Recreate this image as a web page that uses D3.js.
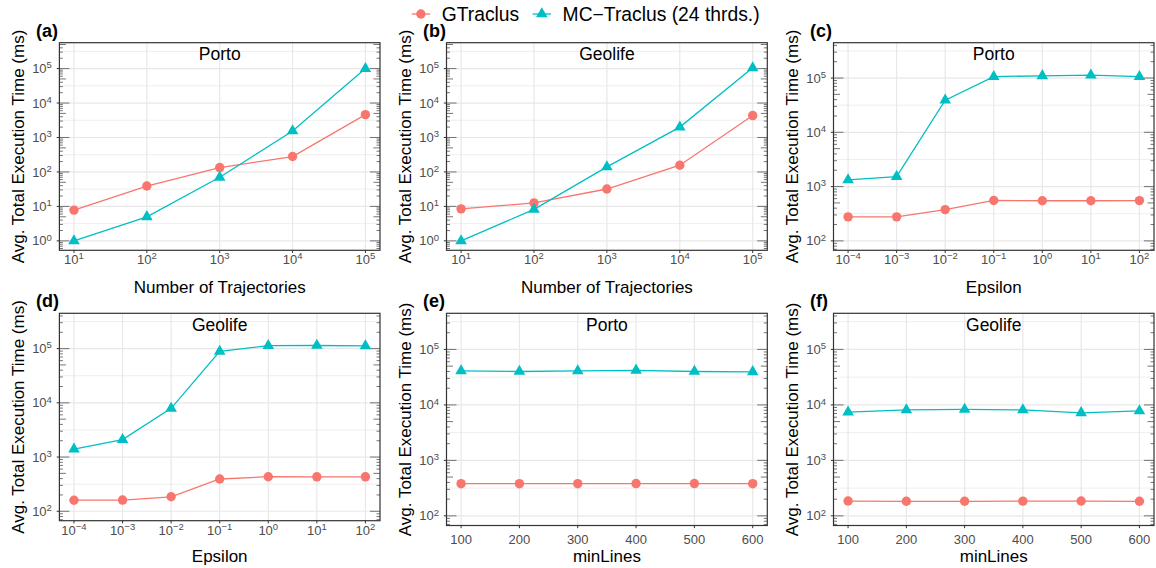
<!DOCTYPE html>
<html>
<head>
<meta charset="utf-8">
<script src="https://cdn.jsdelivr.net/npm/d3@7"></script>
<style>
  body { margin: 0; background: #fff; }
  svg { display: block; font-family: "Liberation Sans", Arial, sans-serif; }
</style>
</head>
<body>
<svg id="chart" width="1156" height="568"></svg>
<script>
// x values
const trajCounts = [10, 100, 1000, 10000, 100000];
const epsilons = [1e-4, 1e-3, 1e-2, 1e-1, 1, 10, 100];
const minLines = [100, 200, 300, 400, 500, 600];

// avg. total execution time (ms)
const gPortoTraj = [7.8, 39, 134, 280, 4600];
const mcPortoTraj = [1.0, 5.0, 70, 1550, 100000];
const gGeoTraj = [8.5, 12.6, 32, 157, 4330];
const mcGeoTraj = [1.0, 8.2, 140, 2000, 105000];
const gPortoEps = [277, 277, 377, 555, 548, 548, 552];
const mcPortoEps = [1330, 1530, 39000, 106000, 110000, 113000, 106000];
const gGeoEps = [160, 161, 185, 394, 434, 432, 432];
const mcGeoEps = [1400, 2100, 7900, 89000, 113000, 114000, 112000];
const gPortoMin = [380, 380, 380, 382, 382, 380];
const mcPortoMin = [41000, 40000, 41000, 42000, 40000, 39500];
const gGeoMin = [185, 183, 183, 184, 185, 183];
const mcGeoMin = [7400, 8100, 8300, 8100, 7200, 7800];

const seriesNames = ['GTraclus', 'MC\u2212Traclus (24 thrds.)'];
const colors = ['#F8766D', '#00BFC4'];

const panels = [
  { tag: '(a)', title: 'Porto', xs: trajCounts, g: gPortoTraj, mc: mcPortoTraj, xLog: true, xTitle: 'Number of Trajectories', yLow: 1, box: [59.4, 42.7, 380, 250.3], row: 0 },
  { tag: '(b)', title: 'Geolife', xs: trajCounts, g: gGeoTraj, mc: mcGeoTraj, xLog: true, xTitle: 'Number of Trajectories', yLow: 1, box: [446.5, 42.7, 767.3, 250.3], row: 0 },
  { tag: '(c)', title: 'Porto', xs: epsilons, g: gPortoEps, mc: mcPortoEps, xLog: true, xTitle: 'Epsilon', yLow: 100, box: [833.5, 42.7, 1154, 250.3], row: 0 },
  { tag: '(d)', title: 'Geolife', xs: epsilons, g: gGeoEps, mc: mcGeoEps, xLog: true, xTitle: 'Epsilon', yLow: 100, box: [59.4, 313.3, 380, 520.7], row: 1 },
  { tag: '(e)', title: 'Porto', xs: minLines, g: gPortoMin, mc: mcPortoMin, xLog: false, xTitle: 'minLines', yLow: 100, box: [446.5, 313.3, 767.3, 525.5], row: 1 },
  { tag: '(f)', title: 'Geolife', xs: minLines, g: gGeoMin, mc: mcGeoMin, xLog: false, xTitle: 'minLines', yLow: 100, box: [833.5, 313.3, 1154, 525.5], row: 1 }
];

const svg = d3.select('#chart');
const yHigh = 3e5;
const xTitleBase = [293, 562];

// 10^k label with a raised exponent
function powLabel(sel, k) {
  sel.text('10');
  sel.append('tspan')
    .attr('dy', '-0.5em')
    .attr('font-size', '9.5px')
    .text(k < 0 ? '\u2212' + Math.abs(k) : String(k));
}

panels.forEach(p => {
  const [x0, y0, x1, y1] = p.box;
  const gEl = svg.append('g');

  // y domain with ggplot-like 5% expansion in log space
  const lo = Math.log10(p.yLow), hi = Math.log10(yHigh);
  const pad = (hi - lo) * 0.05;
  const y = d3.scaleLog().domain([Math.pow(10, lo - pad), Math.pow(10, hi + pad)]).range([y1, y0]);

  let x;
  if (p.xLog) {
    const a = Math.log10(d3.min(p.xs)), b = Math.log10(d3.max(p.xs));
    const px = (b - a) * 0.05;
    x = d3.scaleLog().domain([Math.pow(10, a - px), Math.pow(10, b + px)]).range([x0, x1]);
  } else {
    const a = d3.min(p.xs), b = d3.max(p.xs);
    const px = (b - a) * 0.05;
    x = d3.scaleLinear().domain([a - px, b + px]).range([x0, x1]);
  }

  // background gridlines
  const kLo = Math.floor(lo - pad), kHi = Math.ceil(hi + pad);
  const inY = v => v >= y.domain()[0] && v <= y.domain()[1];
  const majors = d3.range(kLo, kHi + 1).filter(k => inY(Math.pow(10, k)));
  const minors = d3.range(kLo, kHi + 1).map(k => Math.pow(10, k + 0.5)).filter(inY);

  gEl.selectAll('.minor').data(minors).join('line')
    .attr('x1', x0).attr('x2', x1)
    .attr('y1', d => y(d)).attr('y2', d => y(d))
    .attr('stroke', '#ECECEC').attr('stroke-width', 0.9);
  gEl.selectAll('.major').data(majors).join('line')
    .attr('x1', x0).attr('x2', x1)
    .attr('y1', d => y(Math.pow(10, d))).attr('y2', d => y(Math.pow(10, d)))
    .attr('stroke', '#E8E8E8').attr('stroke-width', 1.2);
  gEl.selectAll('.vgrid').data(p.xs).join('line')
    .attr('x1', d => x(d)).attr('x2', d => x(d))
    .attr('y1', y0).attr('y2', y1)
    .attr('stroke', '#E8E8E8').attr('stroke-width', 1.2);

  // log ticks on left and right sides
  const logTicks = [];
  d3.range(kLo, kHi + 1).forEach(k => {
    for (let m = 1; m <= 9; m++) {
      const v = m * Math.pow(10, k);
      if (inY(v)) logTicks.push({ v, len: m === 1 ? 10 : (m === 5 ? 6.5 : 3.5) });
    }
  });
  [[x0, 1], [x1, -1]].forEach(([xe, dir]) => {
    gEl.append('g').selectAll('line').data(logTicks).join('line')
      .attr('x1', xe).attr('x2', d => xe + dir * d.len)
      .attr('y1', d => y(d.v)).attr('y2', d => y(d.v))
      .attr('stroke', '#666').attr('stroke-width', 0.9);
  });

  // series
  const series = [p.g, p.mc];
  series.forEach((vals, i) => {
    const pts = p.xs.map((xv, j) => [x(xv), y(vals[j])]);
    gEl.append('path')
      .attr('d', d3.line()(pts))
      .attr('fill', 'none')
      .attr('stroke', colors[i])
      .attr('stroke-width', 1.3);
    if (i === 0) {
      gEl.append('g').selectAll('circle').data(pts).join('circle')
        .attr('cx', d => d[0]).attr('cy', d => d[1]).attr('r', 4.7)
        .attr('fill', colors[i]);
    } else {
      const r = 6.7;
      gEl.append('g').selectAll('path').data(pts).join('path')
        .attr('d', d => `M${d[0]},${d[1] - r}L${d[0] + r * 0.866},${d[1] + r / 2}L${d[0] - r * 0.866},${d[1] + r / 2}Z`)
        .attr('fill', colors[i]);
    }
  });

  // panel border
  gEl.append('rect')
    .attr('x', x0).attr('y', y0)
    .attr('width', x1 - x0).attr('height', y1 - y0)
    .attr('fill', 'none').attr('stroke', '#333').attr('stroke-width', 1.2);

  // y axis ticks + labels
  majors.forEach(k => {
    const yy = y(Math.pow(10, k));
    gEl.append('line').attr('x1', x0 - 2.7).attr('x2', x0).attr('y1', yy).attr('y2', yy)
      .attr('stroke', '#333').attr('stroke-width', 1);
    gEl.append('text')
      .attr('x', x0 - 7.5).attr('y', yy + 4.6)
      .attr('text-anchor', 'end').attr('font-size', '13px').attr('fill', '#4D4D4D')
      .call(powLabel, k);
  });

  // x axis ticks + labels
  p.xs.forEach(xv => {
    const xx = x(xv);
    gEl.append('line').attr('x1', xx).attr('x2', xx).attr('y1', y1).attr('y2', y1 + 2.7)
      .attr('stroke', '#333').attr('stroke-width', 1);
    const t = gEl.append('text')
      .attr('x', xx)
      .attr('y', y1 + (p.xLog ? 13.8 : 18))
      .attr('text-anchor', 'middle').attr('font-size', '13px').attr('fill', '#4D4D4D');
    if (p.xLog) t.call(powLabel, Math.round(Math.log10(xv)));
    else t.text(xv);
  });

  // titles
  gEl.append('text')
    .attr('x', (x0 + x1) / 2).attr('y', y0 + 17.2)
    .attr('text-anchor', 'middle').attr('font-size', '17.5px').attr('fill', '#000')
    .text(p.title);
  gEl.append('text')
    .attr('x', (x0 + x1) / 2).attr('y', xTitleBase[p.row])
    .attr('text-anchor', 'middle').attr('font-size', '17px').attr('fill', '#000')
    .text(p.xTitle);
  gEl.append('text')
    .attr('transform', `translate(${x0 - 41},${(y0 + y1) / 2}) rotate(-90)`)
    .attr('text-anchor', 'middle').attr('dominant-baseline', 'central')
    .attr('font-size', '17px').attr('fill', '#000')
    .text('Avg. Total Execution Time (ms)');
  gEl.append('text')
    .attr('x', x0 - 23.5).attr('y', y0 - 6)
    .attr('font-size', '18px').attr('font-weight', 'bold').attr('fill', '#000')
    .text(p.tag);
});

// legend
const legend = svg.append('g');
let lx = 411.7;
seriesNames.forEach((name, i) => {
  const cx = lx + 9.2, cy = 14;
  legend.append('line').attr('x1', lx).attr('x2', lx + 18.4).attr('y1', cy).attr('y2', cy)
    .attr('stroke', colors[i]).attr('stroke-width', 1.3);
  if (i === 0) {
    legend.append('circle').attr('cx', cx).attr('cy', cy).attr('r', 4.7).attr('fill', colors[i]);
  } else {
    const r = 6.7;
    legend.append('path')
      .attr('d', `M${cx},${cy - r}L${cx + r * 0.866},${cy + r / 2}L${cx - r * 0.866},${cy + r / 2}Z`)
      .attr('fill', colors[i]);
  }
  const t = legend.append('text')
    .attr('x', lx + 30).attr('y', 21.3)
    .attr('font-size', '19.3px').attr('fill', '#000')
    .text(name);
  lx += 30 + t.node().getComputedTextLength() + 13.4;
});
</script>
</body>
</html>
